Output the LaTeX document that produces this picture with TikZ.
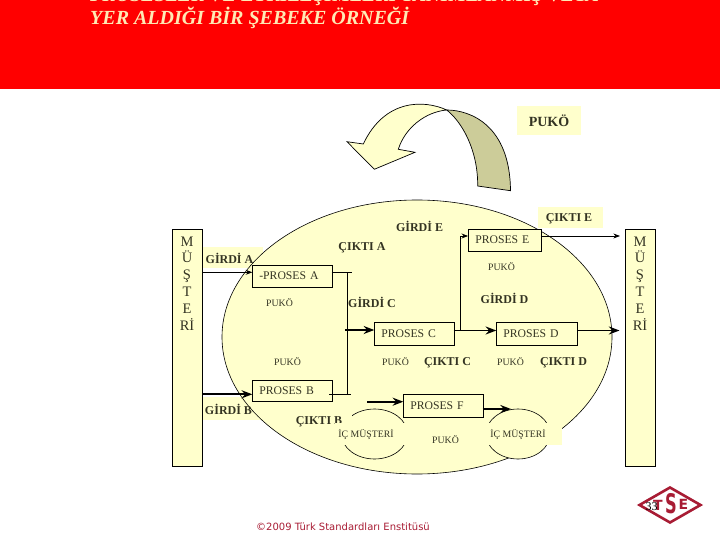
\documentclass[tikz,border=0pt]{standalone}
\usepackage{fontspec}
\setmainfont{Liberation Serif}
\setsansfont{DejaVu Sans}
\usepackage{graphicx}
\usepackage{tikz}
\usetikzlibrary{arrows.meta,shapes.geometric}
\definecolor{pale}{HTML}{FFFFCC}
\definecolor{olive}{HTML}{CCCC99}
\definecolor{ink}{HTML}{333322}
\definecolor{titlecol}{HTML}{FFE9B4}
\definecolor{logored}{HTML}{A81C34}
\tikzset{
  prosesbox/.style={draw,fill=pale,text=ink,inner xsep=7pt,inner ysep=0pt,minimum height=21.6pt,text width=#1,align=left,font=\fontsize{11.7}{13}\selectfont},
  barbox/.style={draw,fill=pale,inner sep=0pt,minimum width=29.4pt,minimum height=236.8pt},
  barletters/.style={anchor=north,align=center,inner sep=0pt,text=ink,font=\fontsize{14.5}{16.8}\selectfont},
  boldlabel/.style={inner sep=0pt,text=ink,font=\bfseries\fontsize{12}{13}\selectfont},
  smalllabel/.style={inner sep=0pt,text=ink,font=\fontsize{9.8}{11}\selectfont},
  titleline/.style={anchor=base west,inner sep=0pt,text=titlecol,font=\bfseries\itshape\fontsize{20}{22}\selectfont},
  thinflow/.style={->,line width=0.8pt},
  thickflow/.style={->,line width=1.7pt},
}
\begin{document}
\begin{tikzpicture}[>=Stealth,x=1pt,y=-1pt]
\useasboundingbox (0,0) rectangle (720,540);
\fill[red] (0,0) rectangle (720,89);
\node[titleline] (titleA) at (90,2) {PROSESLER VE ETKİLEŞİMLERİ TANIMLANMIŞ VEYA};
\node[titleline] (titleB) at (90,25) {YER ALDIĞI BİR ŞEBEKE ÖRNEĞİ};

\node[fill=pale,minimum width=64.5pt,minimum height=29pt,inner sep=0pt,text=ink,font=\bfseries\fontsize{14}{16}\selectfont] (pukoTop) at (549,120.5) {PUKÖ};

\draw[fill=olive,line width=0.7pt] (446.7,110) .. controls (470,110) and (510,125) .. (510.5,190.7) -- (477.7,186) .. controls (478,150) and (462,122) .. (446.7,110) -- cycle;
\draw[fill=pale,line width=0.7pt] (446.7,110) .. controls (425,100) and (385,98) .. (363.3,144) -- (347,141.7) -- (374.3,169.3) -- (415,152.3) -- (398.3,149.3) .. controls (405,128) and (425,112) .. (446.7,110) -- cycle;

\fill[pale] (202,247) rectangle (263,268);
\fill[pale] (538,207) rectangle (603,228);
\fill[pale] (202,397) rectangle (262,420);

\node[draw,fill=pale,ellipse,inner sep=0pt,minimum width=390pt,minimum height=274pt,line width=0.6pt] (cloud) at (417,337) {};

\node[barbox] (musteriL) at (187,347.7) {};
\node[barbox] (musteriR) at (640,347.7) {};
\node[barletters] (lettersL) at (187,236.5) {M\\Ü\\Ş\\T\\E\\Rİ};
\node[barletters] (lettersR) at (640,236.5) {M\\Ü\\Ş\\T\\E\\Rİ};

\node[draw,fill=pale,ellipse,inner sep=0pt,minimum width=66pt,minimum height=50pt,line width=0.6pt] (icL) at (374.5,434) {};
\node[draw,fill=pale,ellipse,inner sep=0pt,minimum width=64pt,minimum height=50pt,line width=0.6pt] (icR) at (518,434) {};
\fill[pale] (290,405) rectangle (352,424);
\node[boldlabel] (ciktiB) at (319,422) {ÇIKTI B};
\fill[pale] (335,423) rectangle (410,445);
\fill[pale] (484,423) rectangle (562,445);
\node[smalllabel] (icLabelL) at (366,434) {İÇ MÜŞTERİ};
\node[smalllabel] (icLabelR) at (518,434) {İÇ MÜŞTERİ};

\node[prosesbox=65.4pt] (prosesA) at (292,276) {-PROSES A};
\node[prosesbox=58.4pt] (prosesE) at (504.5,240) {PROSES E};
\node[prosesbox=65.4pt,minimum height=22.4pt] (prosesC) at (414,333.5) {PROSES C};
\node[prosesbox=66.4pt,minimum height=22.4pt] (prosesD) at (536.5,333.5) {PROSES D};
\node[prosesbox=65.4pt] (prosesB) at (292,390.8) {PROSES B};
\node[prosesbox=65.4pt,minimum height=22.4pt] (prosesF) at (443,405.5) {PROSES F};

\node[boldlabel] (girdiE) at (419.5,226) {GİRDİ E};
\node[boldlabel] (ciktiA) at (362,248) {ÇIKTI A};
\node[boldlabel] (girdiA) at (229.5,258) {GİRDİ A};
\node[boldlabel] (girdiC) at (372,302) {GİRDİ C};
\node[boldlabel] (girdiD) at (504.5,298) {GİRDİ D};
\node[boldlabel] (ciktiE) at (569,219) {ÇIKTI E};
\node[boldlabel] (ciktiC) at (447.5,363) {ÇIKTI C};
\node[boldlabel] (ciktiD) at (563.5,363) {ÇIKTI D};
\node[boldlabel] (girdiB) at (228.5,409) {GİRDİ B};

\node[smalllabel] (pukoA) at (279.5,303) {PUKÖ};
\node[smalllabel] (pukoB) at (287.5,361.5) {PUKÖ};
\node[smalllabel] (pukoC) at (395.5,361.5) {PUKÖ};
\node[smalllabel] (pukoD) at (510.5,361.5) {PUKÖ};
\node[smalllabel] (pukoE) at (501.5,267) {PUKÖ};
\node[smalllabel] (pukoF) at (445.5,440) {PUKÖ};

\coordinate (inA) at (252.3,272.3);
\coordinate (outA) at (331.7,272.3);
\coordinate (stubA) at (351.7,272.3);
\coordinate (busTop) at (347.3,272.3);
\coordinate (busBottom) at (347.3,394.3);
\coordinate (outB) at (329.3,394.3);
\coordinate (stubB) at (350.7,394.3);
\coordinate (inB) at (252.3,394.3);
\coordinate (fromBus) at (345,330);
\coordinate (inC) at (374.3,330);
\coordinate (outC) at (453.7,330.5);
\coordinate (inD) at (496.3,330.5);
\coordinate (branch) at (460.7,330.5);
\coordinate (branchTop) at (460.7,236);
\coordinate (endE) at (620,236);
\coordinate (endD) at (619.5,330.5);
\coordinate (startF) at (367.3,401.7);
\coordinate (inF) at (403.3,401.7);
\coordinate (outF) at (482.7,409);
\coordinate (endF) at (511,409);

\draw[thinflow] (musteriL.east |- inA) -- (inA);
\draw[thickflow] (musteriL.east |- inB) -- (inB);
\draw[line width=0.8pt] (outA) -- (stubA);
\draw[line width=0.8pt] (busTop) -- (busBottom);
\draw[line width=0.8pt] (outB) -- (stubB);
\draw[thickflow] (fromBus) -- (inC);
\draw[thickflow] (outC) -- (inD);
\draw[line width=0.8pt] (branch) -- (branchTop);
\draw[thinflow] (branchTop) -- (prosesE.west |- branchTop);
\draw[thinflow] (prosesE.east |- endE) -- (endE);
\draw[thickflow] (prosesD.east |- endD) -- (endD);
\draw[thickflow] (startF) -- (inF);
\draw[thickflow] (outF) -- (endF);

\draw[logored,line width=2.6pt,fill=white,line join=miter] (639.5,505) -- (670,487.5) -- (700.5,505) -- (670,522.5) -- cycle;
\node[inner sep=0pt,text=logored,font=\sffamily\bfseries\fontsize{14}{15}\selectfont] (logoT) at (658,505) {T};
\node[inner sep=0pt,text=logored,font=\sffamily\bfseries\fontsize{27}{28}\selectfont] (logoS) at (671,504) {\scalebox{0.6}[1]{S}};
\node[inner sep=0pt,text=logored,font=\sffamily\bfseries\fontsize{14}{15}\selectfont] (logoE) at (683.5,504) {E};
\node[inner sep=0pt,font=\fontsize{12}{14}\selectfont] (pageNo) at (651.5,507) {33};

\node[inner sep=0pt,text=logored,font=\sffamily\fontsize{10}{12}\selectfont] (footer) at (343,526.5) {©2009 Türk Standardları Enstitüsü};
\end{tikzpicture}
\end{document}
